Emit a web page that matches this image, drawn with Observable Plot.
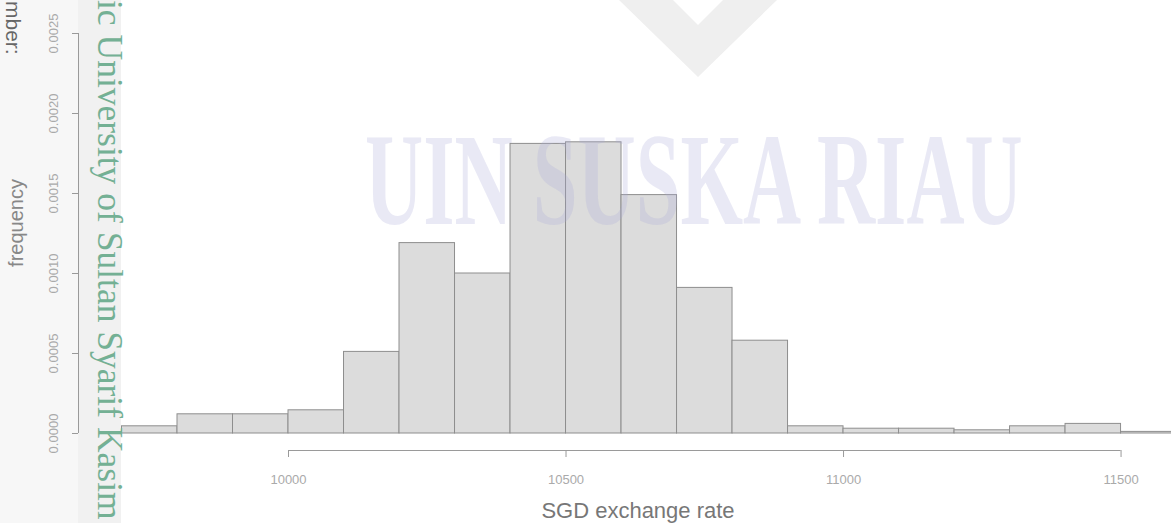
<!DOCTYPE html>
<html>
<head>
<meta charset="utf-8">
<script src="https://cdn.jsdelivr.net/npm/d3@7"></script>
<script src="https://cdn.jsdelivr.net/npm/@observablehq/plot@0.6"></script>
<style>
  html, body { margin: 0; padding: 0; background: #ffffff; }
  #wrap { position: relative; width: 1171px; height: 523px; overflow: hidden; }
  #under, #over { position: absolute; left: 0; top: 0; }
  #over { pointer-events: none; }
  #chart { position: absolute; left: 0; top: 0; }
  #chart svg { background: transparent; }
</style>
</head>
<body>
<div id="wrap">
  <svg id="under" width="1171" height="523">
    <rect x="0" y="0" width="78" height="523" fill="#f7f7f7"></rect>
    <rect x="78" y="0" width="43" height="523" fill="#f1f1f1"></rect>
    <polygon points="619,0 698,77 777,0 723,0 698,25 673,0" fill="#efefef"></polygon>
  </svg>
  <div id="chart"></div>
  <svg id="over" width="1171" height="523">
    <text transform="translate(365,224) scale(0.61,1)" font-family="Liberation Serif, Times New Roman, serif" font-weight="bold" font-size="132" fill="rgba(170,170,215,0.26)">UIN SUSKA RIAU</text>
    <text transform="translate(98,0) rotate(90)" font-family="Liberation Serif, Times New Roman, serif" font-size="35.5" fill="#74b094">ic University of Sultan Syarif Kasim</text>
    <text transform="translate(6,1) rotate(90)" font-family="Liberation Sans, Arial, sans-serif" font-size="21" fill="#666">mber:</text>
    <text transform="translate(23,223) rotate(-90)" text-anchor="middle" font-family="Liberation Sans, Arial, sans-serif" font-size="20" fill="#888">frequency</text>
    <text x="638" y="518" text-anchor="middle" font-family="Liberation Sans, Arial, sans-serif" font-size="22" fill="#777">SGD exchange rate</text>
  </svg>
</div>
<script>
// Histogram bins (lower/upper edges) and density values
const binLow = [9700, 9800, 9900, 10000, 10100, 10200, 10300, 10400, 10500, 10600,
                10700, 10800, 10900, 11000, 11100, 11200, 11300, 11400, 11500];
const binHigh = [9800, 9900, 10000, 10100, 10200, 10300, 10400, 10500, 10600, 10700,
                 10800, 10900, 11000, 11100, 11200, 11300, 11400, 11500, 11600];
const density = [0.000045, 0.00012, 0.00012, 0.000145, 0.00051, 0.00119, 0.00100, 0.00181, 0.00182, 0.00149,
                 0.00091, 0.00058, 0.000045, 0.00003, 0.00003, 0.00002, 0.000045, 0.00006, 0.00001];
const xTicks = [10000, 10500, 11000, 11500];
const yTicks = [0, 0.0005, 0.0010, 0.0015, 0.0020, 0.0025];

const bins = binLow.map((lo, i) => ({lo, hi: binHigh[i], density: density[i]}));

const chart = Plot.plot({
  width: 1171,
  height: 523,
  marginLeft: 121.5,
  marginRight: 0.5,
  marginTop: 33,
  marginBottom: 90,
  x: {domain: [9700, 11590]},
  y: {domain: [0, 0.0025]},
  style: {background: "transparent", fontFamily: "Liberation Sans, Arial, sans-serif"},
  marks: [
    Plot.rectY(bins, {x1: "lo", x2: "hi", y: "density", fill: "#dcdcdc", stroke: "#8e8e8e", strokeWidth: 1}),
    Plot.ruleY([0], {x1: d3.min(xTicks), x2: d3.max(xTicks), dy: 17, stroke: "#9a9a9a"}),
    Plot.axisX({ticks: xTicks, tickFormat: d => String(d), dy: 17, tickSize: 7, tickPadding: 17,
                fontSize: 13, stroke: "#9a9a9a", fill: "#aaaaaa", label: null}),
    Plot.ruleX([9700], {y1: d3.min(yTicks), y2: d3.max(yTicks), dx: -43.5, stroke: "#9a9a9a"}),
    Plot.axisY({ticks: yTicks, tickFormat: d3.format(".4f"), dx: -43.5, tickSize: 6, tickPadding: 15,
                tickRotate: -90, fontSize: 13, stroke: "#9a9a9a", fill: "#aaaaaa", label: null})
  ]
});
document.getElementById("chart").appendChild(chart);
</script>
</body>
</html>
